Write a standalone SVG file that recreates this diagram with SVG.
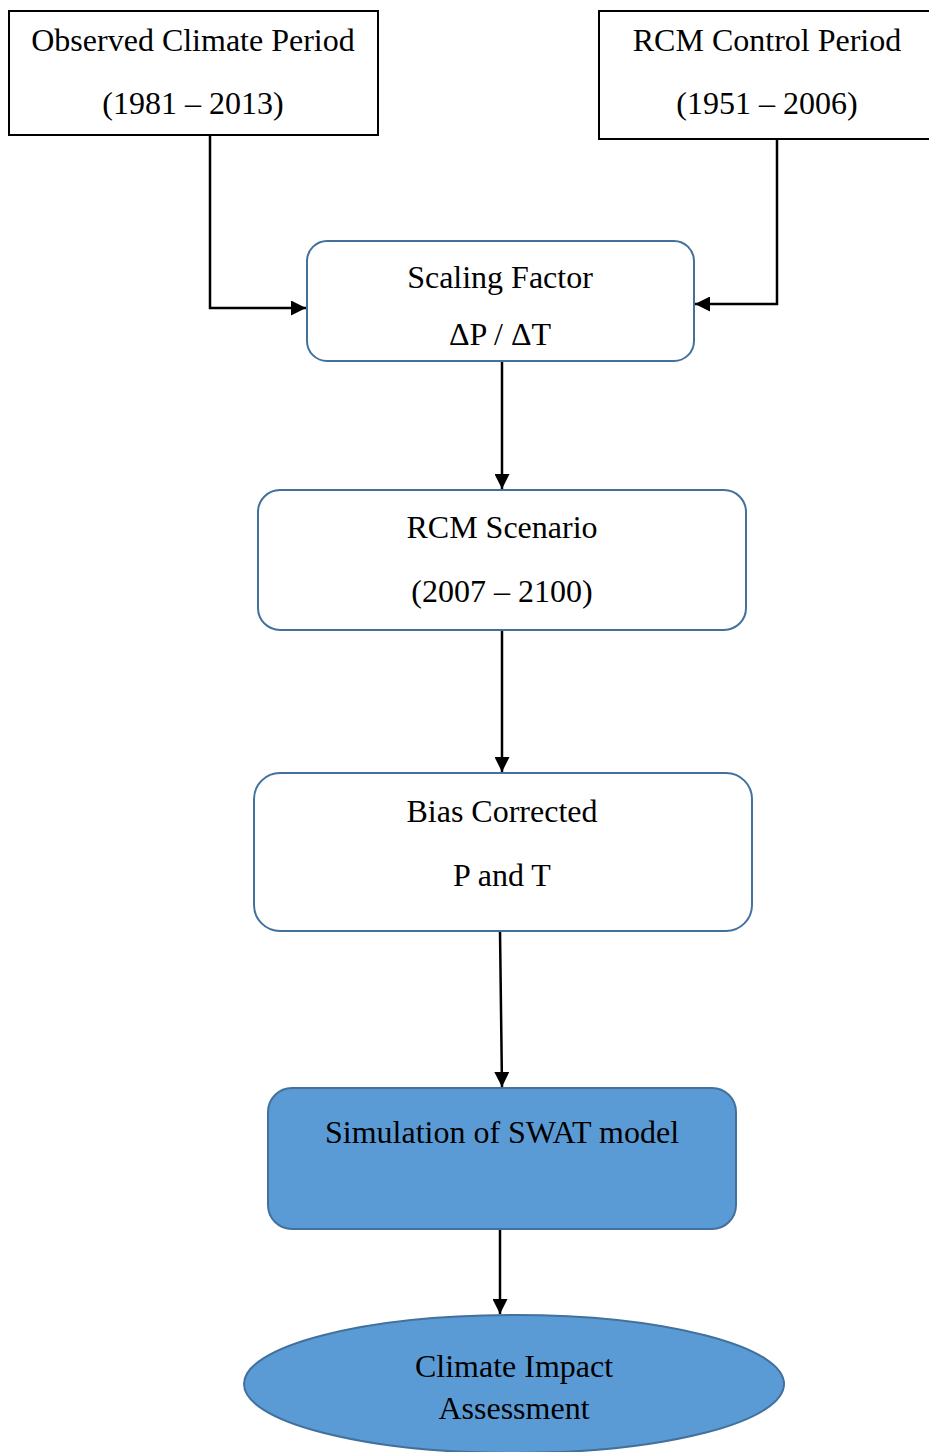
<svg xmlns="http://www.w3.org/2000/svg" width="929" height="1452" viewBox="0 0 929 1452">
<defs>
<style>
.t{font-family:'Liberation Serif','Times New Roman',serif;font-size:32px;fill:#000;text-anchor:middle}
.sq{fill:#fff;stroke:#000;stroke-width:2}
.rb{fill:#fff;stroke:#41719c;stroke-width:2}
.fb{fill:#5b9bd5;stroke:#41719c;stroke-width:2}
.c{fill:none;stroke:#000;stroke-width:2.5}
</style>
<marker id="ah" viewBox="0 0 10 10" refX="10" refY="5" markerWidth="6" markerHeight="6" markerUnits="strokeWidth" orient="auto"><path d="M0,0L10,5L0,10z" fill="#000"/></marker>
</defs>
<rect width="929" height="1452" fill="#fff"/>
<g id="connectors">
<path class="c" d="M210,135V308H306" marker-end="url(#ah)"/>
<path class="c" d="M777,139V304H695" marker-end="url(#ah)"/>
<path class="c" d="M502,361V489" marker-end="url(#ah)"/>
<path class="c" d="M502,630V772" marker-end="url(#ah)"/>
<path class="c" d="M500,931L502,1087" marker-end="url(#ah)"/>
<path class="c" d="M500,1229V1314" marker-end="url(#ah)"/>
</g>
<g id="observed">
<rect class="sq" x="9" y="11" width="369" height="124"/>
<text class="t" x="193" y="51">Observed Climate Period</text>
<text class="t" x="193" y="114">(1981 – 2013)</text>
</g>
<g id="rcm-control">
<rect class="sq" x="599" y="11" width="340" height="128"/>
<text class="t" x="767" y="51">RCM Control Period</text>
<text class="t" x="767" y="114">(1951 – 2006)</text>
</g>
<g id="scaling">
<rect class="rb" x="307" y="241" width="387" height="120" rx="20"/>
<text class="t" x="500" y="288">Scaling Factor</text>
<text class="t" x="500" y="345">ΔP / ΔT</text>
</g>
<g id="scenario">
<rect class="rb" x="258" y="490" width="488" height="140" rx="22"/>
<text class="t" x="502" y="538">RCM Scenario</text>
<text class="t" x="502" y="602">(2007 – 2100)</text>
</g>
<g id="bias">
<rect class="rb" x="254" y="773" width="498" height="158" rx="26"/>
<text class="t" x="502" y="822">Bias Corrected</text>
<text class="t" x="502" y="886">P and T</text>
</g>
<g id="swat">
<rect class="fb" x="268" y="1088" width="468" height="141" rx="24"/>
<text class="t" x="502" y="1143">Simulation of SWAT model</text>
</g>
<g id="impact">
<ellipse class="fb" cx="514" cy="1384" rx="270" ry="69"/>
<text class="t" x="514" y="1377">Climate Impact</text>
<text class="t" x="514" y="1419">Assessment</text>
</g>
</svg>
